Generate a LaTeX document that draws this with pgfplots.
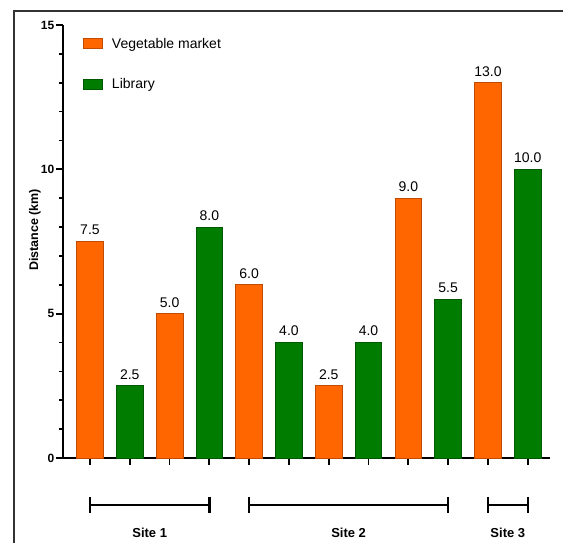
\documentclass[border=0pt]{standalone}
\usepackage{pgfplots}
\pgfplotsset{compat=1.18}
\usepackage{pgfplotstable}
\usepackage{fontspec}
\setmainfont{Liberation Sans}

\definecolor{vegorange}{RGB}{255,102,0}
\definecolor{libgreen}{RGB}{0,125,0}

% bar heights, one table per series (x = bar position)
\pgfplotstableread{
x  y
0  7.5
2  5.0
4  6.0
6  2.5
8  9.0
10 13.0
}\vegdata
\pgfplotstableread{
x  y
1  2.5
3  8.0
5  4.0
7  4.0
9  5.5
11 10.0
}\libdata

\tikzset{bracket/.style={line width=2.4pt}}

\begin{document}
\begin{tikzpicture}
\useasboundingbox (0pt,0pt) rectangle (563pt,543pt);
% outer frame
\draw[line width=1.4pt, black!80] (14pt,0pt) -- (14pt,532pt) -- (563pt,532pt);
\begin{axis}[
  at={(63pt,85pt)}, anchor=south west,
  scale only axis,
  width=487pt, height=433pt,
  xmin=-0.678, xmax=11.56,
  ymin=0, ymax=15,
  clip=false,
  axis x line*=bottom, axis y line*=left,
  axis line style={line width=2pt},
  xtick={0,...,11}, xticklabels={},
  ytick={0,5,10,15},
  minor y tick num=4,
  tick align=outside,
  major tick length=7pt,
  minor tick length=4pt,
  tick style={line width=1.8pt, black},
  minor tick style={line width=1.6pt},
  /pgf/number format/assume math mode=true,
  yticklabel style={font=\fontsize{12}{14}\selectfont\bfseries, inner sep=1.5pt},
  ylabel={Distance (km)},
  ylabel style={at={(rel axis cs:-0.0575,0.527)}, anchor=center,
    font=\fontsize{12.5}{14}\selectfont\bfseries},
  ybar, bar width=0.67, bar shift=0pt,
  nodes near coords,
  nodes near coords style={font=\fontsize{14}{16}\selectfont,
    anchor=south, inner sep=0pt, yshift=6pt,
    /pgf/number format/fixed, /pgf/number format/fixed zerofill,
    /pgf/number format/precision=1,
    /pgf/number format/assume math mode=true},
  legend style={at={(rel axis cs:0.041,0.975)}, anchor=north west,
    draw=none, fill=none, inner sep=0pt,
    font=\fontsize{14}{16}\selectfont,
    row sep=25pt, cells={anchor=west},
    /tikz/every odd column/.append style={column sep=7pt}},
  legend image code/.code={\draw[#1] (0pt,-5pt) rectangle (19pt,5pt);},
]
\addplot[fill=vegorange, draw=vegorange!75!black, line width=0.8pt]
  table[x=x, y=y] {\vegdata};
\addlegendentry{Vegetable market}
\addplot[fill=libgreen, draw=libgreen!70!black, line width=0.8pt]
  table[x=x, y=y] {\libdata};
\addlegendentry{Library}

% site brackets below the bars
\draw[bracket] (axis cs:0,-1.63) -- (axis cs:3,-1.63);
\draw[bracket] (axis cs:0,-1.35) -- (axis cs:0,-1.91);
\draw[bracket] (axis cs:3,-1.35) -- (axis cs:3,-1.91);
\node[font=\fontsize{13}{15}\selectfont\bfseries] at (axis cs:1.5,-2.6) {Site 1};

\draw[bracket] (axis cs:4,-1.63) -- (axis cs:9,-1.63);
\draw[bracket] (axis cs:4,-1.35) -- (axis cs:4,-1.91);
\draw[bracket] (axis cs:9,-1.35) -- (axis cs:9,-1.91);
\node[font=\fontsize{13}{15}\selectfont\bfseries] at (axis cs:6.5,-2.6) {Site 2};

\draw[bracket] (axis cs:10,-1.63) -- (axis cs:11,-1.63);
\draw[bracket] (axis cs:10,-1.35) -- (axis cs:10,-1.91);
\draw[bracket] (axis cs:11,-1.35) -- (axis cs:11,-1.91);
\node[font=\fontsize{13}{15}\selectfont\bfseries] at (axis cs:10.5,-2.6) {Site 3};
\end{axis}
\end{tikzpicture}
\end{document}
